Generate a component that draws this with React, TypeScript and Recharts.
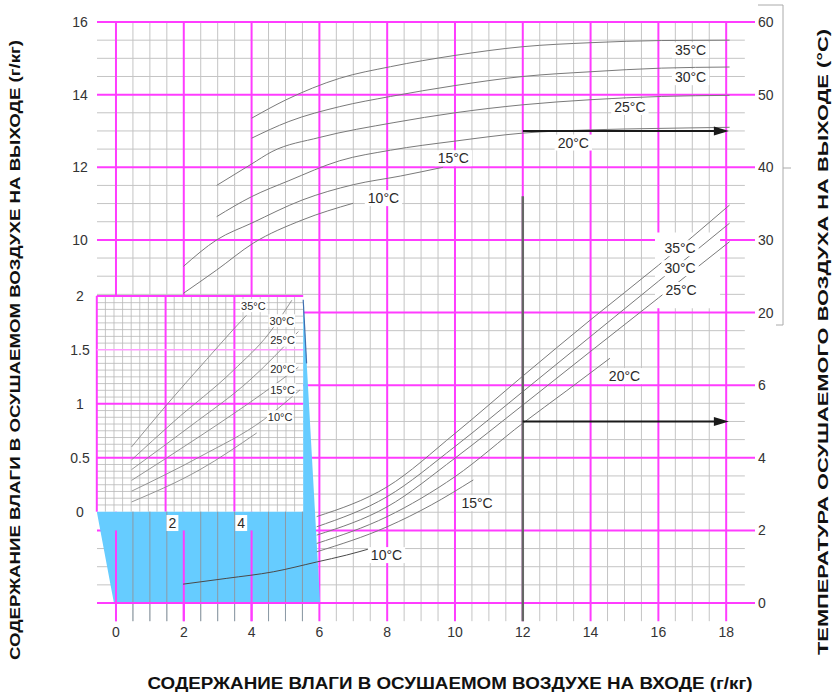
import React from "react";
import {
  ComposedChart,
  Line,
  Area,
  XAxis,
  YAxis,
  ReferenceLine,
  ReferenceArea,
  ReferenceDot,
} from "recharts";

const FONT = '"Liberation Sans", Arial, Helvetica, sans-serif';
const MAG = "#ff3cff";
const GRID = "#c4c4c4";
const CURVE = "#7a7a7a";

// bottom axis: inlet moisture (g/kg)
const xTickValues = [0, 2, 4, 6, 8, 10, 12, 14, 16, 18];
// left axis, upper part: outlet moisture (g/kg)
const leftTickValues = [10, 12, 14, 16];
// inset scale: outlet moisture 0..2 g/kg
const insetYTicks = [0, 0.5, 1, 1.5, 2];
const insetYLabels = ["0", "0.5", "1", "1.5", "2"];
const insetXLabels = [2, 4];
// right axis: outlet temperature (°C)
const rightTickValues = [0, 2, 4, 6, 8, 10, 12, 14, 16];
const rightTickLabels = ["0", "2", "4", "6", "20", "30", "40", "50", "60"];

// upper family: outlet moisture vs inlet moisture
const up35 = [[4.0, 13.35], [5.0, 13.85], [6.6, 14.45], [8.1, 14.77], [10, 15.08], [12, 15.32], [14, 15.43], [16.1, 15.49], [18.1, 15.5]];
const up30 = [[4.0, 12.8], [5.1, 13.26], [6.6, 13.67], [8.1, 13.95], [10, 14.25], [12, 14.5], [14, 14.63], [16.1, 14.73], [18.1, 14.76]];
const up25 = [[2.97, 11.5], [4.0, 12.09], [4.6, 12.43], [6.0, 12.82], [8.2, 13.23], [10, 13.5], [12, 13.72], [14, 13.86], [16.1, 13.95], [18.1, 13.98]];
const up20 = [[2.97, 10.64], [4.0, 11.19], [5.1, 11.63], [6.6, 12.18], [8.1, 12.47], [10, 12.72], [12, 12.94], [14, 13.03], [16, 13.07], [18.1, 13.1]];
const up15 = [[1.99, 9.27], [2.97, 10.0], [4.0, 10.46], [5.5, 11.1], [7.0, 11.52], [8.4, 11.76], [9.65, 12.0]];
const up10 = [[1.99, 8.53], [2.97, 9.17], [4.05, 9.91], [5.5, 10.55], [7.0, 11.01]];

// lower family: outlet temperature vs inlet moisture
const low35 = [[5.92, 2.38], [8, 3.2], [10, 4.67], [12, 6.25], [14, 7.8], [16, 9.3], [18.1, 10.96]];
const low30 = [[5.92, 2.1], [8, 2.93], [10, 4.31], [12, 5.82], [14, 7.34], [16, 8.86], [18.1, 10.46]];
const low25 = [[5.92, 1.87], [8, 2.65], [10, 3.99], [12, 5.45], [14, 6.93], [16, 8.4], [18.1, 9.95]];
const low20 = [[5.92, 1.64], [8, 2.38], [10, 3.48], [12, 4.95], [13.3, 5.85], [14.57, 6.74]];
const low15 = [[5.92, 1.41], [8, 2.1], [9.3, 2.7], [10.54, 3.39]];
const low10 = [[1.98, 0.52], [3.27, 0.68], [4.64, 0.86], [5.92, 1.13], [6.8, 1.32], [7.54, 1.51]];

// inset family (inset units)
const in35 = [[1.01, 0.6], [2.03, 0.99], [3.19, 1.41], [4.0, 1.7], [4.35, 1.82]];
const in30 = [[1.01, 0.48], [2.22, 0.83], [3.97, 1.31], [5.0, 1.65], [5.67, 1.96]];
const in25 = [[1.01, 0.39], [2.71, 0.79], [4.45, 1.22], [5.86, 1.67]];
const in20 = [[1.01, 0.29], [3.0, 0.7], [4.84, 1.1], [5.86, 1.34]];
const in15 = [[1.01, 0.19], [3.0, 0.51], [4.84, 0.85], [5.91, 1.13]];
const in10 = [[1.01, 0.09], [3.0, 0.39], [4.65, 0.73]];

const upperTags: [string, number, number][] = [
  ["35°C", 16.95, 15.22], ["30°C", 16.95, 14.48], ["25°C", 15.16, 13.66],
  ["20°C", 13.49, 12.68], ["15°C", 9.95, 12.25], ["10°C", 7.89, 11.15],
];
const lowerTags: [string, number, number][] = [
  ["35°C", 16.64, 9.77], ["30°C", 16.64, 9.22], ["25°C", 16.67, 8.62],
  ["20°C", 15.0, 6.25], ["15°C", 10.65, 2.75], ["10°C", 7.98, 1.32],
];
const insetTags: [string, number, number][] = [
  ["35°C", 4.55, 1.91], ["30°C", 5.38, 1.77], ["25°C", 5.4, 1.59],
  ["20°C", 5.4, 1.32], ["15°C", 5.4, 1.13], ["10°C", 5.33, 0.88],
];

// arrows: 45°C on upper scale, 5 on lower scale, from inlet 12 g/kg
const arrowLevels = [13, 5];
const arrowFrom = 12;

const xMin = -0.56;
const xMax = 18.85;
const yMin = -0.55;
const yMax = 16;

// inset -> main coordinates
const ix = (u: number) => -0.566 + u * 1.0147;
const iy = (v: number) => 2.515 + v * 2.971;

const pts = (a: number[][]) => a.map(([x, y]) => ({ x, y }));
const ipts = (a: number[][]) => a.map(([u, v]) => ({ x: ix(u), y: iy(v) }));

const blueShape = [
  { x: ix(0), r: [iy(0), iy(0)] },
  { x: -0.06, r: [0, iy(0)] },
  { x: ix(6), r: [0, iy(0)] },
  { x: ix(6), r: [0, 8.35] },
  { x: 6.02, r: [0, 0] },
];

function tag(text: string, size: number, pad = 3) {
  return (p: any) => {
    const w = text.length * size * 0.56 + pad * 2;
    const h = size + 2;
    return (
      <g>
        <rect x={p.cx - w / 2} y={p.cy - h / 2} width={w} height={h} fill="#fff" />
        <text x={p.cx} y={p.cy} dy="0.36em" textAnchor="middle" fontSize={size} fill="#2a2a2a" fontFamily={FONT}>
          {text}
        </text>
      </g>
    );
  };
}

function seg(key: string, x1: number, y1: number, x2: number, y2: number, stroke: string, w: number, z: number) {
  return (
    <ReferenceLine
      key={key}
      yAxisId="L"
      segment={[{ x: x1, y: y1 }, { x: x2, y: y2 }]}
      stroke={stroke}
      strokeWidth={w}
      ifOverflow="visible"
      zIndex={z}
    />
  );
}

function mainGrid() {
  const out: any[] = [];
  for (let i = 0; i <= 36; i++) {
    if (i % 4 !== 0) out.push(seg("vm" + i, i * 0.5, -0.5, i * 0.5, yMax, GRID, 1, 1));
  }
  for (let j = 1; j < 32; j++) {
    if (j % 4 !== 0) out.push(seg("hm" + j, xMin, j * 0.5, 18.55, j * 0.5, GRID, 1, 1));
  }
  for (let i = 0; i <= 9; i++) out.push(seg("vM" + i, i * 2, -0.5, i * 2, yMax, MAG, 2, 2));
  for (let j = 0; j <= 8; j++) out.push(seg("hM" + j, xMin, j * 2, xMax, j * 2, MAG, 2, 2));
  return out;
}

function insetGrid() {
  const out: any[] = [];
  for (let i = 1; i < 24; i++) {
    if (i % 8 !== 0) out.push(seg("iv" + i, ix(i * 0.25), iy(0), ix(i * 0.25), iy(2), "#b8b8b8", 0.8, 4));
  }
  for (let j = 1; j < 32; j++) {
    if (j % 8 !== 0) out.push(seg("ih" + j, ix(0), iy(j * 0.0625), ix(6), iy(j * 0.0625), "#b8b8b8", 0.8, 4));
  }
  [0, 2, 4].forEach((u) => out.push(seg("iV" + u, ix(u), iy(0), ix(u), iy(2), MAG, 2, 5)));
  [0.5, 1, 2].forEach((v) => out.push(seg("iH" + v, ix(0), iy(v), ix(6), iy(v), MAG, 2, 5)));
  out.push(seg("iH15", ix(0), iy(1.5), ix(6), iy(1.5), "#ff9cff", 1.5, 5));
  return out;
}

function blueGrid() {
  const out: any[] = [];
  for (let i = 1; i <= 11; i++) {
    if (i % 4 !== 0) out.push(seg("bv" + i, i * 0.5, -0.5, i * 0.5, iy(0), "#8c9aa6", 1, 7));
  }
  [0, 2, 4].forEach((x) => out.push(seg("bV" + x, x, -0.5, x, 2, MAG, 2, 7)));
  out.push(seg("bH0", xMin, 0, xMax, 0, MAG, 2, 7));
  return out;
}

const curveLine = (key: string, data: any[], stroke = CURVE, w = 1) => (
  <Line
    key={key}
    yAxisId="L"
    data={data}
    dataKey="y"
    type="monotone"
    stroke={stroke}
    strokeWidth={w}
    dot={false}
    activeDot={false}
    isAnimationActive={false}
    zIndex={9}
  />
);

const arrowHead = (p: any) => (
  <polygon points={`${p.cx},${p.cy} ${p.cx - 15},${p.cy - 4.5} ${p.cx - 15},${p.cy + 4.5}`} fill="#1a1a1a" />
);

const tickText = (x: number, y: number, s: string, anchor: string) => (
  <text x={x} y={y} dy="0.36em" textAnchor={anchor as any} fontSize={14} fill="#333" fontFamily={FONT}>
    {s}
  </text>
);

const leftTicks = [...insetYTicks.map(iy), ...leftTickValues];
const leftLabels = [...insetYLabels, ...leftTickValues.map(String)];

function labelFor(vals: number[], labels: string[], v: number) {
  const i = vals.findIndex((t) => Math.abs(t - v) < 1e-6);
  return i >= 0 ? labels[i] : "";
}

export default function App() {
  return (
    <div style={{ position: "absolute", left: 0, top: 0, width: 835, height: 697, background: "#fff", fontFamily: FONT }}>
      <ComposedChart width={835} height={697} margin={{ top: 22, right: 20, bottom: 44, left: 37 }}>
        <XAxis
          type="number"
          dataKey="x"
          domain={[xMin, xMax]}
          allowDataOverflow
          ticks={xTickValues}
          interval={0}
          axisLine={false}
          tickLine={false}
          tickSize={0}
          tickMargin={9}
          height={30}
          tick={(p: any) => tickText(p.x, p.y, String(p.payload.value), "middle")}
        />
        <YAxis
          yAxisId="L"
          type="number"
          domain={[yMin, yMax]}
          allowDataOverflow
          ticks={leftTicks}
          interval={0}
          axisLine={false}
          tickLine={false}
          tickSize={0}
          tickMargin={17}
          width={60}
          tick={(p: any) => tickText(p.x, p.y, labelFor(leftTicks, leftLabels, p.payload.value), "middle")}
        />
        <YAxis
          yAxisId="R"
          orientation="right"
          type="number"
          domain={[yMin, yMax]}
          allowDataOverflow
          ticks={rightTickValues}
          interval={0}
          axisLine={false}
          tickLine={false}
          tickSize={0}
          tickMargin={3}
          width={60}
          tick={(p: any) => tickText(p.x, p.y, labelFor(rightTickValues, rightTickLabels, p.payload.value), "start")}
        />

        {mainGrid()}

        <ReferenceArea yAxisId="L" x1={ix(0)} x2={ix(6)} y1={iy(0)} y2={iy(2)} fill="#fff" fillOpacity={1} stroke="none" ifOverflow="visible" zIndex={3} />
        {insetGrid()}

        <Area
          yAxisId="L"
          data={blueShape}
          dataKey="r"
          type="linear"
          stroke="none"
          fill="#66ccff"
          fillOpacity={1}
          dot={false}
          activeDot={false}
          isAnimationActive={false}
          zIndex={6}
        />
        {blueGrid()}
        {seg("blueEdge", ix(6), 8.35, ix(6) + 0.1, 6.6, "#3f6fb0", 1.2, 7)}

        <ReferenceArea yAxisId="L" x1={15.9} x2={17.82} y1={8.12} y2={10.2} fill="#fff" fillOpacity={1} stroke="none" ifOverflow="visible" zIndex={8} />

        {curveLine("u35", pts(up35))}
        {curveLine("u30", pts(up30))}
        {curveLine("u25", pts(up25))}
        {curveLine("u20", pts(up20))}
        {curveLine("u15", pts(up15))}
        {curveLine("u10", pts(up10))}
        {curveLine("l35", pts(low35))}
        {curveLine("l30", pts(low30))}
        {curveLine("l25", pts(low25))}
        {curveLine("l20", pts(low20))}
        {curveLine("l15", pts(low15))}
        {curveLine("l10", pts(low10), "#4a4a4a", 1)}
        {curveLine("i35", ipts(in35), "#8a8a8a", 0.9)}
        {curveLine("i30", ipts(in30), "#8a8a8a", 0.9)}
        {curveLine("i25", ipts(in25), "#8a8a8a", 0.9)}
        {curveLine("i20", ipts(in20), "#8a8a8a", 0.9)}
        {curveLine("i15", ipts(in15), "#8a8a8a", 0.9)}
        {curveLine("i10", ipts(in10), "#8a8a8a", 0.9)}

        {seg("dark12", arrowFrom, -0.5, arrowFrom, 11.2, "#666", 2.5, 10)}
        {arrowLevels.map((y) => seg("arr" + y, arrowFrom, y, 17.7, y, "#1a1a1a", 2, 10))}
        {arrowLevels.map((y) => (
          <ReferenceDot key={"ah" + y} yAxisId="L" x={18.08} y={y} r={1} shape={arrowHead} ifOverflow="visible" zIndex={10} />
        ))}

        {[...upperTags, ...lowerTags].map(([t, x, y], i) => (
          <ReferenceDot key={"t" + i} yAxisId="L" x={x} y={y} r={1} shape={tag(t, 14)} ifOverflow="visible" zIndex={11} />
        ))}
        {insetTags.map(([t, u, v], i) => (
          <ReferenceDot key={"it" + i} yAxisId="L" x={ix(u)} y={iy(v)} r={1} shape={tag(t, 11, 1)} ifOverflow="visible" zIndex={11} />
        ))}
        {insetXLabels.map((u) => (
          <ReferenceDot key={"ix" + u} yAxisId="L" x={ix(u + 0.2)} y={iy(-0.105)} r={1} shape={tag(String(u), 14, 2)} ifOverflow="visible" zIndex={11} />
        ))}
      </ComposedChart>

      <svg width={835} height={697} style={{ position: "absolute", left: 0, top: 0, pointerEvents: "none" }}>
        <text
          transform="translate(20,350) rotate(-90)"
          textAnchor="middle"
          fontSize={15}
          fontWeight="bold"
          fill="#111"
          fontFamily={FONT}
          textLength={620}
          lengthAdjust="spacingAndGlyphs"
        >
          СОДЕРЖАНИЕ ВЛАГИ В ОСУШАЕМОМ ВОЗДУХЕ НА ВЫХОДЕ (г/кг)
        </text>
        <text
          transform="translate(828,342) rotate(-90)"
          textAnchor="middle"
          fontSize={15}
          fontWeight="bold"
          fill="#111"
          fontFamily={FONT}
          textLength={626}
          lengthAdjust="spacingAndGlyphs"
        >
          ТЕМПЕРАТУРА ОСУШАЕМОГО ВОЗДУХА НА ВЫХОДЕ (°C)
        </text>
        <text
          x={450}
          y={689}
          textAnchor="middle"
          fontSize={16}
          fontWeight="bold"
          fill="#111"
          fontFamily={FONT}
          textLength={605}
          lengthAdjust="spacingAndGlyphs"
        >
          СОДЕРЖАНИЕ ВЛАГИ В ОСУШАЕМОМ ВОЗДУХЕ НА ВХОДЕ (г/кг)
        </text>
        <path d="M758,5 H783 V325 H776 M783,168 H791" stroke="#aaa" strokeWidth={1} fill="none" />
      </svg>
    </div>
  );
}
